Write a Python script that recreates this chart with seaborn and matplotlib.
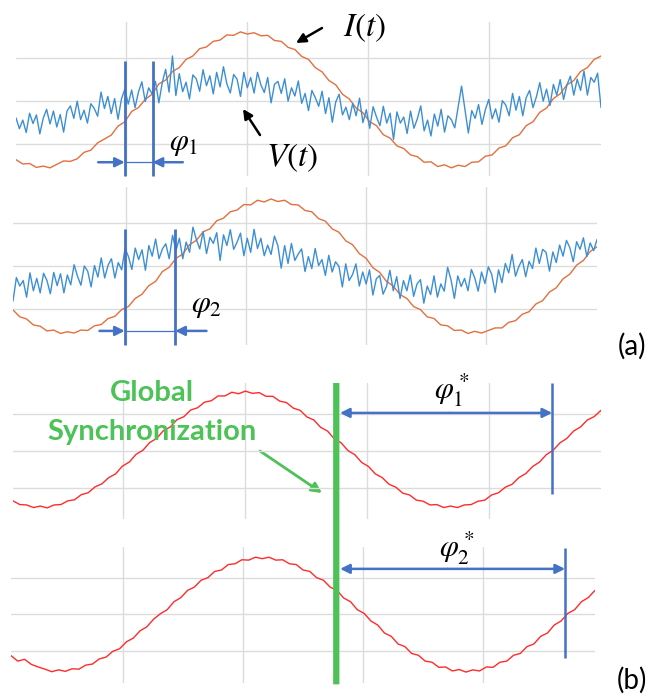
import numpy as np
import matplotlib
matplotlib.use("Agg")
import matplotlib.pyplot as plt
import seaborn as sns
from matplotlib.patches import ConnectionPatch
from matplotlib.transforms import blended_transform_factory

# ---------------- data (grid units: gridlines at -1, 0, 1) ----------------
current_a1 = [
    -1.36, -1.46, -1.45, -1.54, -1.51, -1.55, -1.47, -1.39, -1.40, -1.34, -1.19, -1.14, -0.97, -0.88, -0.79, -0.58, -0.48, -0.24, -0.15, 0.04,
    0.16, 0.40, 0.49, 0.69, 0.78, 0.97, 1.05, 1.22, 1.26, 1.39, 1.42, 1.54, 1.53, 1.61, 1.56, 1.59, 1.52, 1.53, 1.41, 1.39,
    1.25, 1.20, 1.04, 0.97, 0.78, 0.68, 0.48, 0.38, 0.16, 0.05, -0.16, -0.27, -0.48, -0.57, -0.78, -0.86, -1.04, -1.10, -1.25, -1.29,
    -1.42, -1.41, -1.52, -1.48, -1.55, -1.49, -1.52, -1.42, -1.41, -1.28, -1.25, -1.09, -1.04, -0.85, -0.78, -0.57, -0.48, -0.26, -0.16, 0.06,
    0.17, 0.38, 0.48, 0.69, 0.78, 0.97, 1.05]

voltage_a1 = [
    -0.39, -0.64, -0.44, -0.73, -0.28, -0.52, -0.32, -0.76, -0.40, -0.19, -0.53, -0.23, -0.60, -0.31, -0.72, -0.23, -0.11, -0.40, 0.00, -0.43,
    -0.21, -0.51, -0.06, -0.17, -0.35, 0.21, -0.17, 0.11, -0.29, 0.06, -0.42, 0.05, 0.28, -0.07, 0.26, -0.15, 0.21, 0.45, -0.01, 0.31,
    0.17, 0.46, -0.04, 0.43, 0.74, 0.21, 1.05, 0.13, 0.64, 0.22, 0.44, 0.05, 0.61, 0.52, 0.23, 0.73, 0.36, 0.59, 0.17, 0.67,
    0.33, 0.80, 0.40, 0.19, 0.62, 0.51, 0.11, 0.67, 0.31, 0.55, 0.19, 0.67, 0.38, 0.20, 0.55, -0.04, 0.39, 0.46, 0.18, 0.52,
    0.00, 0.31, 0.12, 0.47, -0.05, 0.18, -0.22, 0.25, 0.08, -0.12, 0.23, -0.29, 0.08, -0.49, -0.02, 0.16, -0.32, -0.14, -0.43, -0.05,
    -0.34, 0.07, -0.50, -0.20, -0.63, -0.13, -0.37, -0.57, -0.12, -0.51, -0.28, -0.89, -0.25, -0.51, -0.37, -0.75, -0.23, -0.63, -0.41, -0.11,
    -0.69, -0.44, -0.81, -0.30, -0.58, -0.19, -0.72, -0.34, -0.43, -0.62, -0.13, 0.35, -0.20, -0.74, -0.22, -0.40, -0.08, -0.54, -0.20, 0.04,
    -0.41, -0.18, -0.49, 0.01, -0.09, -0.34, 0.18, -0.21, 0.11, -0.34, 0.08, 0.25, -0.15, 0.10, 0.43, 0.00, 0.28, -0.10, 0.39, 0.14,
    0.50, 0.04, 0.38, 0.58, 0.14, 0.51, 0.25, 0.70, 0.14, 0.55, 0.44, 0.65, -0.15]

current_a2 = [
    -1.03, -1.19, -1.24, -1.38, -1.41, -1.52, -1.50, -1.58, -1.54, -1.57, -1.50, -1.51, -1.40, -1.37, -1.23, -1.18, -1.02, -0.95, -0.76, -0.66,
    -0.46, -0.36, -0.13, -0.03, 0.18, 0.28, 0.50, 0.60, 0.80, 0.87, 1.06, 1.12, 1.27, 1.31, 1.44, 1.43, 1.54, 1.50, 1.57, 1.51,
    1.54, 1.44, 1.43, 1.30, 1.27, 1.11, 1.05, 0.87, 0.79, 0.59, 0.50, 0.29, 0.18, -0.04, -0.15, -0.36, -0.47, -0.67, -0.76, -0.95,
    -1.02, -1.19, -1.23, -1.38, -1.40, -1.51, -1.50, -1.58, -1.53, -1.57, -1.51, -1.45, -1.45, -1.32, -1.28, -1.13, -1.07, -0.89, -0.81, -0.61,
    -0.51, -0.30, -0.19, 0.02, 0.13, 0.34, 0.45]

voltage_a2 = [
    -0.82, -0.27, -0.47, -0.34, -0.73, -0.16, -0.58, -0.29, -0.63, -0.17, -0.34, -0.65, -0.15, -0.46, -0.18, -0.63, -0.21, -0.44, 0.03, -0.24,
    -0.45, 0.00, -0.12, -0.49, 0.01, -0.26, 0.19, -0.28, 0.02, 0.17, -0.28, 0.08, -0.09, 0.41, 0.22, -0.08, 0.42, 0.15, 0.38, -0.10,
    0.48, 0.23, 0.63, 0.17, 0.40, 0.52, 0.17, 0.72, 0.36, 0.65, 0.17, 0.56, 0.32, 0.91, 0.62, 0.40, 0.81, 0.29, 0.67, 0.53,
    0.78, 0.13, 0.73, 0.48, 0.85, 0.39, 0.56, 0.77, 0.24, 0.65, 0.32, 0.86, 0.41, 0.65, 0.24, 0.49, 0.27, 0.70, 0.48, -0.05,
    0.48, 0.06, 0.53, 0.13, 0.28, 0.40, -0.13, 0.22, -0.06, 0.41, 0.01, 0.15, -0.22, 0.25, -0.14, 0.10, -0.01, -0.49, 0.05, -0.34,
    -0.20, 0.05, -0.47, -0.14, -0.42, -0.09, -0.68, -0.30, -0.22, -0.66, -0.48, -0.10, -0.58, -0.25, -0.76, -0.34, -0.58, -0.21, -0.71, -0.42,
    -0.32, -0.87, -0.47, -0.67, -0.23, -0.73, -0.42, -0.59, -0.03, -0.32, -0.76, -0.23, -0.48, -0.29, -0.58, -0.08, -0.28, -0.59, -0.14, -0.41,
    -0.02, -0.20, -0.62, -0.09, -0.39, 0.06, -0.16, 0.27, -0.24, -0.01, 0.15, -0.25, 0.11, -0.06, 0.42, 0.06, 0.39, 0.32, -0.12, 0.33,
    0.08, 0.49, 0.23, 0.60, 0.43, 0.10, 0.57, 0.39, 0.66, 0.22, 0.54, 0.36, 0.62]

signal_b1 = [
    -1.35, -1.45, -1.46, -1.53, -1.49, -1.54, -1.46, -1.45, -1.35, -1.32, -1.18, -1.13, -0.97, -0.89, -0.72, -0.62, -0.41, -0.30, -0.09, 0.02,
    0.23, 0.34, 0.55, 0.65, 0.85, 0.93, 1.11, 1.17, 1.32, 1.36, 1.49, 1.49, 1.59, 1.55, 1.62, 1.56, 1.58, 1.48, 1.48, 1.35,
    1.31, 1.16, 1.10, 0.92, 0.84, 0.64, 0.54, 0.33, 0.22, 0.01, -0.10, -0.31, -0.42, -0.62, -0.72, -0.90, -0.98, -1.14, -1.19, -1.33,
    -1.36, -1.46, -1.45, -1.53, -1.49, -1.53, -1.46, -1.45, -1.36, -1.33, -1.19, -1.13, -0.98, -0.90, -0.72, -0.61, -0.42, -0.30, -0.10, 0.02,
    0.22, 0.34, 0.54, 0.65, 0.84, 0.93, 1.10]

signal_b2 = [
    -1.13, -1.28, -1.23, -1.37, -1.44, -1.50, -1.57, -1.52, -1.56, -1.49, -1.50, -1.39, -1.36, -1.22, -1.17, -1.01, -0.94, -0.75, -0.65, -0.45, -0.34, -0.13,
    0.02, 0.13, 0.35, 0.46, 0.66, 0.75, 0.94, 1.01, 1.18, 1.22, 1.37, 1.39, 1.50, 1.49, 1.57, 1.53, 1.57, 1.49, 1.50, 1.39, 1.37, 1.22, 1.18, 1.01, 0.94, 0.75, 0.66, 0.45, 0.35, 0.13,
    0.03, -0.18, -0.29, -0.51, -0.60, -0.81, -0.88, -1.07, -1.12, -1.28, -1.31, -1.45, -1.44, -1.55, -1.51, -1.58, -1.52, -1.55, -1.44, -1.45, -1.31, -1.28, -1.12, -1.07, -0.88, -0.81, -0.60, -0.51, -0.29, -0.18,
    0.03, 0.13, 0.35, 0.46, 0.66]

# time spans of each panel (grid units, vertical gridlines at 1..4)
time_span_a1 = (0.09, 4.93)
time_span_a2 = (0.06, 4.92)
time_span_b1 = (0.10, 4.92)
time_span_b2 = (0.06, 4.94)

# phase markers
phi1_times = (0.99, 1.22)
phi2_times = (0.99, 1.41)
sync_time_b1 = 2.75
phi1_star_times = (2.78, 4.52)
phi2_star_times = (2.81, 4.69)

# ---------------- style ----------------
sns.set_theme(style="white")
plt.rcParams["mathtext.fontset"] = "stix"
plt.rcParams["font.family"] = ["Lato", "DejaVu Sans"]

W, H = 667, 699
fig = plt.figure(figsize=(W / 100, H / 100), dpi=100)
fig.patch.set_facecolor("white")

GRID = "#dcdcdc"
BLUE = "#3d8fd3"
ORANGE = "#e2703f"
RED = "#ff2b2b"
MARK = "#4472c4"
GREEN = "#4cc257"


def px_axes(x0, y0, x1, y1):
    return fig.add_axes([x0 / W, 1 - y1 / H, (x1 - x0) / W, (y1 - y0) / H])


def style(ax, xlim, ylim):
    ax.set_xlim(*xlim)
    ax.set_ylim(*ylim)
    ax.set_xticks([1, 2, 3, 4])
    ax.set_yticks([-1, 0, 1])
    ax.grid(True, color=GRID, lw=1.0)
    ax.set_axisbelow(True)
    ax.tick_params(length=0, labelbottom=False, labelleft=False)
    ax.set_xlabel("")
    ax.set_ylabel("")
    for s in ax.spines.values():
        s.set_visible(False)
    ax.set_facecolor("none")


def curve(ax, span, vals, color, lw):
    t = np.linspace(span[0], span[1], len(vals))
    sns.lineplot(x=t, y=vals, ax=ax, color=color, lw=lw, sort=False, estimator=None)


def arrow(ax, tail, tip, color, lw=1.8, style_="-|>", ms=14):
    ax.annotate("", xy=tip, xytext=tail,
                arrowprops=dict(arrowstyle=style_, color=color, lw=lw,
                                shrinkA=0, shrinkB=0, mutation_scale=ms),
                annotation_clip=False)


def fig_text(x, y, s, **kw):
    fig.text(x / W, 1 - y / H, s, ha="center", va="center", **kw)


# ---------------- panel (a) top ----------------
ax1 = px_axes(16, 22, 601, 176)
curve(ax1, time_span_a1, current_a1, ORANGE, 1.0)
curve(ax1, time_span_a1, voltage_a1, BLUE, 1.0)
style(ax1, time_span_a1, (-1.74, 1.84))
yb = -1.74
ax1.vlines(phi1_times, [0.93, 0.93], [yb, yb], color=MARK, lw=2.0, clip_on=False)
arrow(ax1, (0.77, -1.42), (phi1_times[0], -1.42), MARK)
arrow(ax1, (1.47, -1.42), (phi1_times[1], -1.42), MARK)
ax1.plot(phi1_times, [-1.42, -1.42], color=MARK, lw=0.9)

# ---------------- panel (a) bottom ----------------
ax2 = px_axes(13, 187, 597, 345)
curve(ax2, time_span_a2, current_a2, ORANGE, 1.0)
curve(ax2, time_span_a2, voltage_a2, BLUE, 1.0)
style(ax2, time_span_a2, (-1.85, 1.85))
ax2.vlines(phi2_times, [0.87, 0.87], [-1.85, -1.85], color=MARK, lw=2.0, clip_on=False)
arrow(ax2, (0.78, -1.52), (phi2_times[0], -1.52), MARK)
arrow(ax2, (1.67, -1.52), (phi2_times[1], -1.52), MARK)
ax2.plot(phi2_times, [-1.52, -1.52], color=MARK, lw=0.9)

# ---------------- panel (b) top ----------------
ax3 = px_axes(13, 383, 601, 519)
curve(ax3, time_span_b1, signal_b1, RED, 1.0)
style(ax3, time_span_b1, (-1.84, 1.84))
ax3.vlines([phi1_star_times[1]], [1.84], [-1.16], color=MARK, lw=1.8, clip_on=False)
arrow(ax3, (phi1_star_times[0] + 0.9, 1.03), (phi1_star_times[1], 1.03), MARK, lw=1.8)
arrow(ax3, (phi1_star_times[0] + 0.9, 1.03), (phi1_star_times[0], 1.03), MARK, lw=1.8)

# ---------------- panel (b) bottom ----------------
ax4 = px_axes(11, 547, 595, 683)
curve(ax4, time_span_b2, signal_b2, RED, 1.0)
style(ax4, time_span_b2, (-1.88, 1.85))
ax4.vlines([phi2_star_times[1]], [1.82], [-1.19], color=MARK, lw=1.8, clip_on=False)
arrow(ax4, (phi2_star_times[0] + 0.9, 1.25), (phi2_star_times[1], 1.25), MARK, lw=1.8)
arrow(ax4, (phi2_star_times[0] + 0.9, 1.25), (phi2_star_times[0], 1.25), MARK, lw=1.8)

# global synchronization line spanning both (b) panels
bt = blended_transform_factory(ax3.transData, ax4.transAxes)
sync = ConnectionPatch(xyA=(sync_time_b1, 1.84), coordsA=ax3.transData,
                       xyB=(sync_time_b1, -0.01), coordsB=bt,
                       color=GREEN, lw=4.5, capstyle="butt")
fig.add_artist(sync)

# ---------------- labels ----------------
fig_text(184, 144, r"$\varphi_1$", fontsize=22, color="black")
fig_text(207, 306, r"$\varphi_2$", fontsize=22, color="black")
fig_text(452, 390, r"$\varphi_1^*$", fontsize=22, color="black")
fig_text(457, 548, r"$\varphi_2^*$", fontsize=22, color="black")
fig_text(292, 158, r"$V(t)$", fontsize=24, color="black")
fig_text(365, 28, r"$I(t)$", fontsize=24, color="black")
fig_text(632, 346, "(a)", fontsize=20, color="black")
fig_text(632, 680, "(b)", fontsize=20, color="black")
fig_text(152, 393, "Global", fontsize=21, color=GREEN, fontweight="bold")
fig_text(152, 432, "Synchronization", fontsize=21, color=GREEN, fontweight="bold")


def fig_arrow(tail, tip, color, lw, ms):
    ax1.annotate("", xy=(tip[0], H - tip[1]), xytext=(tail[0], H - tail[1]),
                 xycoords="figure pixels", textcoords="figure pixels",
                 arrowprops=dict(arrowstyle="-|>", color=color, lw=lw,
                                 shrinkA=0, shrinkB=0, mutation_scale=ms),
                 annotation_clip=False)


fig_arrow((260, 135), (243, 109), "black", 1.8, 14)
fig_arrow((322, 28), (296, 43), "black", 1.8, 14)
fig_arrow((260, 451), (322, 493), GREEN, 2.0, 15)

fig.savefig("out.png", dpi=100, facecolor="white")
